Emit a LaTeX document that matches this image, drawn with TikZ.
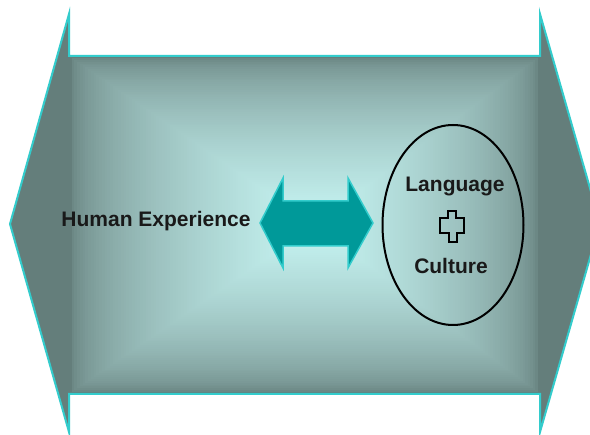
\documentclass[tikz,border=0pt]{standalone}
\usepackage{fontspec}
\setmainfont{Liberation Sans}
\usetikzlibrary{shapes.geometric}
\definecolor{bandedge}{RGB}{100,126,123}
\definecolor{bandcore}{RGB}{200,246,244}
\definecolor{rimcyan}{RGB}{51,204,204}
\definecolor{linkteal}{RGB}{0,153,153}
\definecolor{inktext}{RGB}{25,25,25}
\tikzset{
  label text/.style={text=inktext, font=\bfseries\fontsize{21}{25}\selectfont, inner sep=0pt},
  rim/.style={draw=rimcyan, line width=2pt, line join=miter},
}
\begin{document}
\begin{tikzpicture}[x=1pt,y=-1pt]
\useasboundingbox (0,0) rectangle (590,435);
\clip (0,0) rectangle (590,435);
\fill[white] (0,0) rectangle (590,435);

% outline of the broad double-headed band
\def\bandpath{(69,56) -- (69,14) -- (10,224) -- (69,432) -- (69,394) -- (540,394) -- (540,432) -- (600,223) -- (540,14) -- (540,56) -- cycle}
\fill[bandedge] \bandpath;

% rectangular gradient of the band body, light towards the middle
\foreach \i in {0,...,90} {
  \pgfmathsetmacro\t{1-\i/90}
  \pgfmathsetmacro\f{100*(\i/90)^0.55}
  \fill[bandcore!\f!bandedge] ({315-246*\t},{225-169*\t}) rectangle ({315+225*\t},{225+169*\t});
}
\draw[rim] \bandpath;

% two-way arrow in the middle
\fill[linkteal, draw=rimcyan, line width=1.5pt, line join=miter]
  (260,223) -- (283,178) -- (283,201) -- (348,201) -- (348,178) -- (373,223)
  -- (348,268) -- (348,246) -- (283,246) -- (283,268) -- cycle;

% labels
\node[label text, anchor=base] (human) at (156,227) {Human Experience};

\node[draw=black, line width=2pt, ellipse, minimum width=141pt, minimum height=200pt, inner sep=0pt] (lc) at (453,225) {};
\node[label text, anchor=base] (lang) at (455,192) {Language};
\node[label text, anchor=base] (cult) at (451,274) {Culture};

% outlined plus symbol between the two words
\draw[black, line width=1.8pt, line join=miter]
  (448,211) -- (456,211) -- (456,218) -- (464,218) -- (464,233) -- (457,233)
  -- (457,242) -- (449,242) -- (449,233) -- (440,233) -- (440,218) -- (448,218) -- cycle;
\end{tikzpicture}
\end{document}
